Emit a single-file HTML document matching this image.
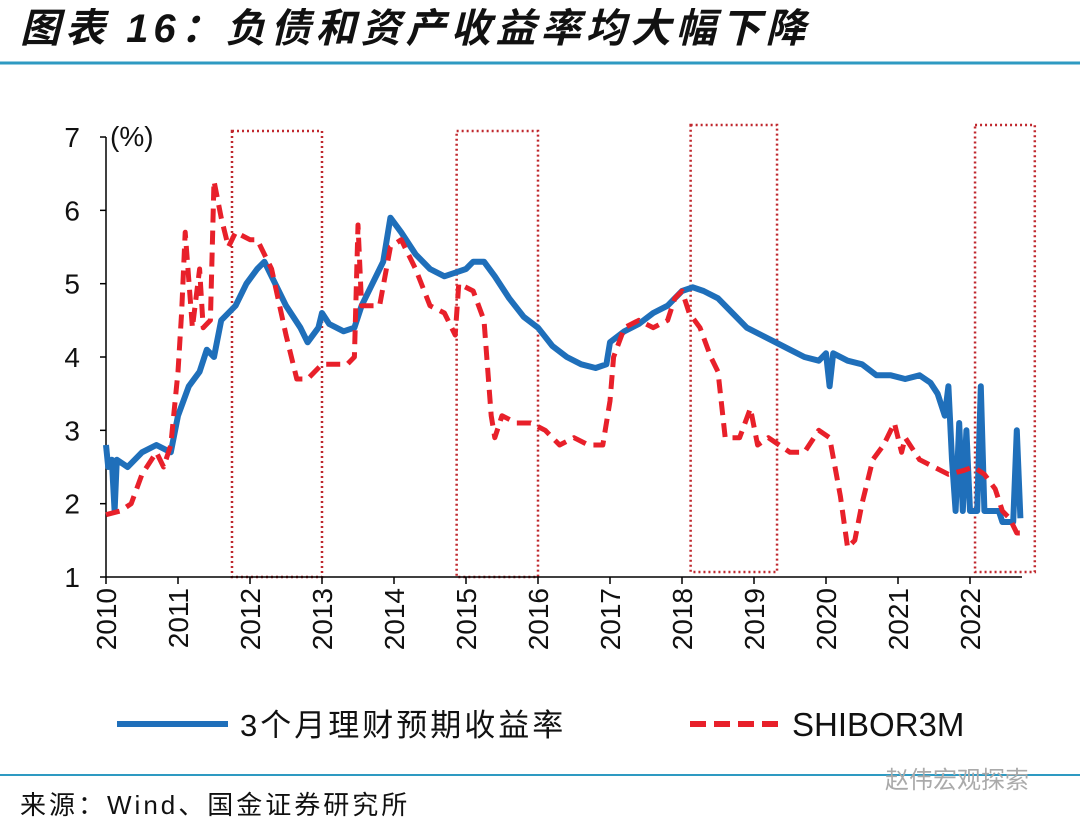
<!DOCTYPE html>
<html><head><meta charset="utf-8"><style>
body{margin:0;width:1080px;height:830px;background:#fff;overflow:hidden;font-family:"Liberation Sans","Noto Sans CJK SC",sans-serif}
</style></head><body>
<svg id="chart" width="1080" height="830" xmlns="http://www.w3.org/2000/svg">
<text x="20" y="42" font-size="40" font-weight="bold" font-style="italic" letter-spacing="5" font-family="Liberation Sans,Noto Sans CJK SC,sans-serif" fill="#111">图表 16：负债和资产收益率均大幅下降</text>
<line x1="0" y1="63" x2="1080" y2="63" stroke="#2e9ac2" stroke-width="3"/>
<g id="boxes"></g>
<g id="axes"></g>
<g id="series"></g>
<g>
<line x1="117" y1="724" x2="228" y2="724" stroke="#1f6fba" stroke-width="6"/>
<text x="240" y="736" font-size="31" letter-spacing="3" fill="#111">3个月理财预期收益率</text>
<line x1="690" y1="724" x2="782" y2="724" stroke="#e8202a" stroke-width="6" stroke-dasharray="16,8"/>
<text x="792" y="736" font-size="33" fill="#111">SHIBOR3M</text>
</g>
<line x1="0" y1="775" x2="1080" y2="775" stroke="#2e9ac2" stroke-width="2"/>
<text x="20" y="814" font-size="26" letter-spacing="3" fill="#111">来源：Wind、国金证券研究所</text>
<text x="885" y="788" font-size="24" fill="#aaa">赵伟宏观探索</text>
</svg>
<script>
const yTicks=[1,2,3,4,5,6,7];
const xYears=[2010,2011,2012,2013,2014,2015,2016,2017,2018,2019,2020,2021,2022];
const blueT=[2010.0,2010.03,2010.08,2010.12,2010.15,2010.3,2010.5,2010.7,2010.9,2011.0,2011.15,2011.3,2011.4,2011.5,2011.6,2011.8,2011.95,2012.1,2012.2,2012.35,2012.5,2012.7,2012.8,2012.95,2013.0,2013.1,2013.3,2013.45,2013.55,2013.7,2013.85,2013.95,2014.1,2014.3,2014.5,2014.7,2014.85,2015.0,2015.1,2015.25,2015.4,2015.6,2015.8,2016.0,2016.2,2016.4,2016.6,2016.8,2016.95,2017.0,2017.2,2017.4,2017.6,2017.8,2018.0,2018.15,2018.3,2018.5,2018.7,2018.9,2019.1,2019.3,2019.5,2019.7,2019.9,2020.0,2020.05,2020.1,2020.3,2020.5,2020.7,2020.9,2021.1,2021.3,2021.45,2021.55,2021.65,2021.7,2021.75,2021.8,2021.85,2021.9,2021.95,2022.0,2022.1,2022.15,2022.2,2022.4,2022.45,2022.6,2022.65,2022.7];
const blueV=[2.8,2.5,2.6,1.9,2.6,2.5,2.7,2.8,2.7,3.2,3.6,3.8,4.1,4.0,4.5,4.7,5.0,5.2,5.3,5.0,4.7,4.4,4.2,4.4,4.6,4.45,4.35,4.4,4.7,5.0,5.3,5.9,5.7,5.4,5.2,5.1,5.15,5.2,5.3,5.3,5.1,4.8,4.55,4.4,4.15,4.0,3.9,3.85,3.9,4.2,4.35,4.45,4.6,4.7,4.9,4.95,4.9,4.8,4.6,4.4,4.3,4.2,4.1,4.0,3.95,4.05,3.6,4.05,3.95,3.9,3.75,3.75,3.7,3.75,3.65,3.5,3.2,3.6,2.6,1.9,3.1,1.9,3.0,1.9,1.9,3.6,1.9,1.9,1.75,1.75,3.0,1.8];
const redT=[2010.0,2010.2,2010.35,2010.5,2010.7,2010.8,2010.9,2011.0,2011.05,2011.1,2011.2,2011.3,2011.35,2011.45,2011.5,2011.6,2011.7,2011.8,2012.0,2012.1,2012.3,2012.5,2012.65,2012.8,2013.0,2013.2,2013.35,2013.45,2013.5,2013.55,2013.8,2013.95,2014.1,2014.3,2014.5,2014.7,2014.85,2014.9,2015.1,2015.25,2015.35,2015.4,2015.5,2015.7,2015.9,2016.1,2016.3,2016.5,2016.7,2016.9,2017.0,2017.05,2017.2,2017.4,2017.6,2017.8,2017.9,2018.0,2018.1,2018.25,2018.4,2018.5,2018.6,2018.8,2018.95,2019.05,2019.2,2019.35,2019.5,2019.7,2019.9,2020.05,2020.2,2020.3,2020.4,2020.5,2020.65,2020.8,2020.95,2021.05,2021.1,2021.3,2021.5,2021.7,2021.9,2022.05,2022.2,2022.35,2022.45,2022.55,2022.65,2022.72];
const redV=[1.85,1.9,2.0,2.4,2.7,2.5,2.8,3.8,4.6,5.7,4.4,5.2,4.4,4.5,6.4,5.9,5.5,5.7,5.6,5.6,5.2,4.3,3.7,3.7,3.9,3.9,3.9,4.0,5.8,4.7,4.7,5.5,5.6,5.2,4.7,4.6,4.3,5.0,4.9,4.5,3.2,2.9,3.2,3.1,3.1,3.0,2.8,2.9,2.8,2.8,3.4,4.0,4.4,4.5,4.4,4.5,4.8,4.9,4.6,4.4,4.0,3.8,2.9,2.9,3.3,2.8,2.9,2.8,2.7,2.7,3.0,2.9,2.1,1.4,1.5,2.0,2.6,2.8,3.1,2.7,2.9,2.6,2.5,2.4,2.45,2.5,2.4,2.2,1.9,1.8,1.6,1.6];
const boxStart=[2011.75,2014.87,2018.12,2022.07];
const boxEnd=[2013.0,2016.0,2019.32,2022.9];
const NS="http://www.w3.org/2000/svg";
const X=t=>106+(t-2010)*72;
const Y=v=>577-(v-1)*73.33;
function mk(tag,attrs,parent,text){const e=document.createElementNS(NS,tag);for(const k in attrs)e.setAttribute(k,attrs[k]);if(text!==undefined)e.textContent=text;parent.appendChild(e);return e;}
const axes=document.getElementById('axes'),boxes=document.getElementById('boxes'),series=document.getElementById('series');
let e=mk('line',{x1:106,y1:Y(7),x2:106,y2:577,stroke:'#000','stroke-width':1.5},axes);


e=mk('line',{x1:106,y1:577,x2:1022,y2:577,stroke:'#000','stroke-width':1.5},axes);


e=mk('text',{x:110,y:146,'font-size':28,fill:'#111'},axes,'(%)');


yTicks.forEach(v=>{
 let t=mk('line',{x1:100,y1:Y(v),x2:106,y2:Y(v),stroke:'#000','stroke-width':1.5},axes);
 
 
 let l=mk('text',{x:80,y:Y(v)+10,'font-size':28,'text-anchor':'end',fill:'#111'},axes,String(v));
 
 
});
xYears.forEach(y=>{
 let t=mk('line',{x1:X(y),y1:577,x2:X(y),y2:584,stroke:'#000','stroke-width':1.5},axes);
 
 
 let l=mk('text',{x:0,y:0,'font-size':28,'text-anchor':'end',fill:'#111',transform:`translate(${X(y)+10},588) rotate(-90)`},axes,String(y));
 
 
});
boxStart.forEach((s,i)=>{
 let r=mk('rect',{x:X(s),y:i>=2?125:131,width:X(boxEnd[i])-X(s),height:i>=2?447:446,fill:'none',stroke:'#c0282e','stroke-width':2.5,'stroke-dasharray':'2,3'},boxes);
 
 
});
function path(T,V){return T.map((t,i)=>(i?'L':'M')+X(t).toFixed(1)+','+Y(V[i]).toFixed(1)).join('');}
e=mk('path',{d:path(blueT,blueV),fill:'none',stroke:'#1f6fba','stroke-width':6,'stroke-linejoin':'round'},series);


e=mk('path',{d:path(redT,redV),fill:'none',stroke:'#e8202a','stroke-width':5,'stroke-dasharray':'14,8','stroke-linejoin':'round'},series);


</script>
</body></html>
